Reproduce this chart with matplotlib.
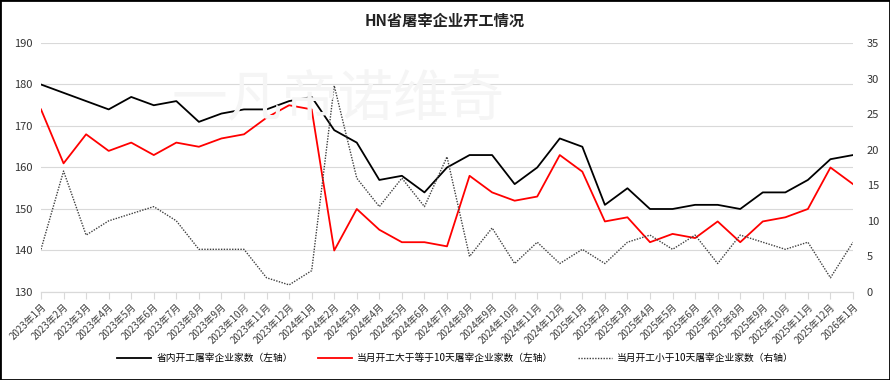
import matplotlib
matplotlib.use("Agg")
import matplotlib.pyplot as plt
from matplotlib.patches import Rectangle

plt.rcParams['font.family'] = ['Noto Sans CJK SC', 'DejaVu Sans']

# months 2023-01 .. 2026-01
months = []
for y in (2023, 2024, 2025):
    for m in range(1, 13):
        months.append(f"{y}年{m}月")
months.append("2026年1月")

# 省内开工屠宰企业家数 (left)
total = [180, 178, 176, 174, 177, 175, 176, 171, 173, 174, 174, 176,
         177, 169, 166, 157, 158, 154, 160, 163, 163, 156, 160, 167,
         165, 151, 155, 150, 150, 151, 151, 150, 154, 154, 157, 162,
         163]
# 当月开工大于等于10天 (left)
ge10 = [174, 161, 168, 164, 166, 163, 166, 165, 167, 168, 172, 175,
        174, 140, 150, 145, 142, 142, 141, 158, 154, 152, 153, 163,
        159, 147, 148, 142, 144, 143, 147, 142, 147, 148, 150, 160,
        156]
# 当月开工小于10天 (right)
lt10 = [6, 17, 8, 10, 11, 12, 10, 6, 6, 6, 2, 1,
        3, 29, 16, 12, 16, 12, 19, 5, 9, 4, 7, 4,
        6, 4, 7, 8, 6, 8, 4, 8, 7, 6, 7, 2,
        7]

x = list(range(len(months)))

fig = plt.figure(figsize=(8.9, 3.8), dpi=100)
ax = fig.add_axes([41/890, 1-292/380, (853-41)/890, (292-43)/380])
ax2 = ax.twinx()

# faint watermark
fig.text(0.38, 0.735, "一凡帝诺维奇", fontsize=40, color="#f5f5f5",
         ha="center", va="center", zorder=0)

l1, = ax.plot(x, total, color="black", lw=1.3, label="省内开工屠宰企业家数（左轴）")
l2, = ax.plot(x, ge10, color="#ff0000", lw=1.3, label="当月开工大于等于10天屠宰企业家数（左轴）")
l3, = ax2.plot(x, lt10, color="#404040", lw=1.0, ls=(0, (1, 1)),
               label="当月开工小于10天屠宰企业家数（右轴）")

ax.set_ylim(130, 190)
ax.set_yticks(range(130, 191, 10))
ax2.set_ylim(0, 35)
ax2.set_yticks(range(0, 36, 5))
ax.set_xlim(0, len(months) - 1)
ax.set_xticks(x)
ax.set_xticklabels(months, rotation=45, ha="right", rotation_mode="anchor",
                   fontsize=7, color="#404040")
ax.grid(axis="y", color="#d9d9d9", lw=0.8)
ax.set_axisbelow(True)
for a in (ax, ax2):
    for s in ("top", "left", "right"):
        a.spines[s].set_visible(False)
    a.spines["bottom"].set_color("#d9d9d9")
ax.tick_params(axis="x", length=5, color="#d9d9d9", pad=2)
ax.tick_params(axis="y", length=0, labelsize=8, colors="#333333", pad=6)
ax2.tick_params(axis="y", length=0, labelsize=8, colors="#333333", pad=10)
ax.patch.set_alpha(0)

fig.text(0.5, 0.945, "HN省屠宰企业开工情况", ha="center", va="center",
         fontsize=11, fontweight="bold", color="#222222")

fig.legend(handles=[l1, l2, l3], loc="center", bbox_to_anchor=(0.512, 0.058),
           ncol=3, frameon=False, fontsize=7, handlelength=3.5,
           columnspacing=2.6, handletextpad=0.5)

fig.patches.append(Rectangle((0, 0), 1, 1, transform=fig.transFigure,
                             fill=False, edgecolor="black", lw=2))

fig.savefig("out.png", dpi=100)
